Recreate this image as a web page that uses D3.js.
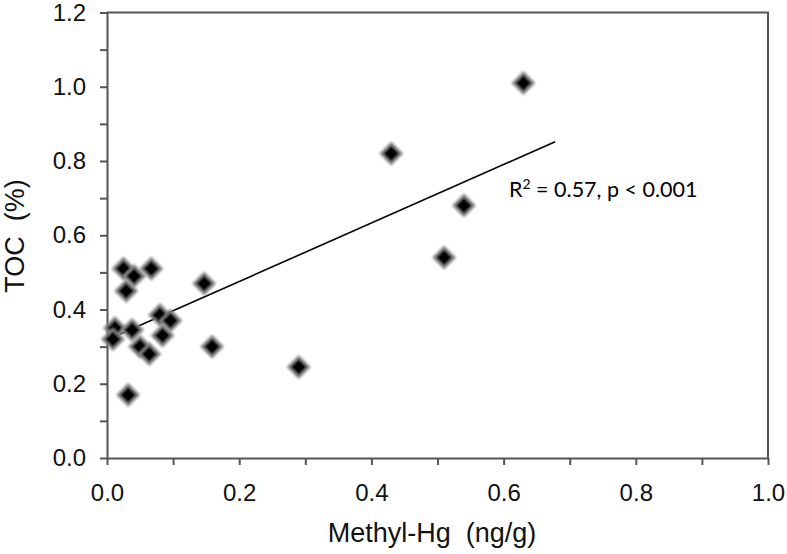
<!DOCTYPE html>
<html>
<head>
<meta charset="utf-8">
<script src="https://cdn.jsdelivr.net/npm/d3@7"></script>
<style>
  body { margin: 0; background: #fff; }
  svg { display: block; }
</style>
</head>
<body>
<div id="chart"></div>
<script>
// Methyl-Hg (ng/g) vs TOC (%)
var methylHg = [0.63, 0.43, 0.54, 0.51, 0.29, 0.147, 0.159, 0.067, 0.025, 0.041,
                0.029, 0.012, 0.009, 0.038, 0.05, 0.064, 0.08, 0.096, 0.084, 0.032];
var toc = [1.01, 0.82, 0.68, 0.54, 0.245, 0.47, 0.30, 0.51, 0.51, 0.49,
           0.45, 0.35, 0.32, 0.345, 0.30, 0.28, 0.385, 0.37, 0.33, 0.17];
var trendX = [0.009, 0.678];
var trendY = [0.325, 0.852];
var xTicks = [0, 0.1, 0.2, 0.3, 0.4, 0.5, 0.6, 0.7, 0.8, 0.9, 1.0];
var yTicks = [0, 0.1, 0.2, 0.3, 0.4, 0.5, 0.6, 0.7, 0.8, 0.9, 1.0, 1.1, 1.2];

var svgWidth = 787;
var svgHeight = 554;
var plotLeft = 107, plotRight = 768, plotTop = 12.5, plotBottom = 458;
var axisColor = "#555";

var svg = d3.select("#chart")
  .append("svg")
  .attr("width", svgWidth)
  .attr("height", svgHeight);

var defs = svg.append("defs");
defs.append("filter")
  .attr("id", "soft")
  .attr("x", "-50%").attr("y", "-50%")
  .attr("width", "200%").attr("height", "200%")
  .append("feGaussianBlur")
  .attr("stdDeviation", 1.2);

var x = d3.scaleLinear().domain([0, 1]).range([plotLeft, plotRight]);
var y = d3.scaleLinear().domain([0, 1.2]).range([plotBottom, plotTop]);

// frame (top and right)
svg.append("path")
  .attr("d", "M" + plotLeft + "," + plotTop + "H" + plotRight + "V" + plotBottom)
  .attr("fill", "none")
  .attr("stroke", axisColor)
  .attr("stroke-width", 2);

var fmt = function(d){
  return (Math.round(d * 10) % 2 === 0) ? d3.format(".1f")(d) : "";
};

var xAxis = svg.append("g")
  .attr("transform", "translate(0," + plotBottom + ")")
  .call(d3.axisBottom(x).tickValues(xTicks).tickFormat(fmt).tickSize(7).tickSizeOuter(0).tickPadding(19));

var yAxis = svg.append("g")
  .attr("transform", "translate(" + plotLeft + ",0)")
  .call(d3.axisLeft(y).tickValues(yTicks).tickFormat(fmt).tickSize(7).tickSizeOuter(0).tickPadding(14));

[xAxis, yAxis].forEach(function(a){
  a.select(".domain").attr("stroke", axisColor).attr("stroke-width", 2);
  a.selectAll(".tick line").attr("stroke", axisColor).attr("stroke-width", 2);
  a.selectAll(".tick text")
    .attr("fill", "#111")
    .style("font-family", "'Liberation Sans', Arial, sans-serif")
    .style("font-size", "24px");
});

// trend line
svg.append("line")
  .attr("x1", x(trendX[0])).attr("y1", y(trendY[0]))
  .attr("x2", x(trendX[1])).attr("y2", y(trendY[1]))
  .attr("stroke", "#000")
  .attr("stroke-width", 1.6);

// markers
var diamond = d3.symbol().type(d3.symbolSquare).size(210);
svg.append("g")
  .selectAll("path")
  .data(methylHg)
  .enter()
  .append("path")
  .attr("d", diamond)
  .attr("transform", function(d, i){
    return "translate(" + x(d) + "," + y(toc[i]) + ") rotate(45)";
  })
  .attr("fill", "#000")
  .attr("stroke", "#888")
  .attr("stroke-width", 2.5)
  .attr("filter", "url(#soft)");

// annotation
var note = svg.append("text")
  .attr("x", 509)
  .attr("y", 197)
  .style("font-family", "Lato, 'Open Sans', sans-serif")
  .style("font-size", "21.5px")
  .attr("fill", "#000");
note.append("tspan").text("R");
note.append("tspan").attr("dy", -8).style("font-size", "14px").text("2");
note.append("tspan").attr("dy", 8).text(" = 0.57, p < 0.001");

// axis titles
svg.append("text")
  .attr("x", 432)
  .attr("y", 542)
  .attr("text-anchor", "middle")
  .style("font-family", "'Liberation Sans', Arial, sans-serif")
  .style("font-size", "27px")
  .style("white-space", "pre")
  .attr("fill", "#111")
  .text("Methyl-Hg  (ng/g)");

svg.append("text")
  .attr("transform", "translate(24," + 236 + ") rotate(-90)")
  .attr("text-anchor", "middle")
  .style("font-family", "'Liberation Sans', Arial, sans-serif")
  .style("font-size", "27px")
  .style("white-space", "pre")
  .attr("fill", "#111")
  .text("TOC  (%)");
</script>
</body>
</html>
